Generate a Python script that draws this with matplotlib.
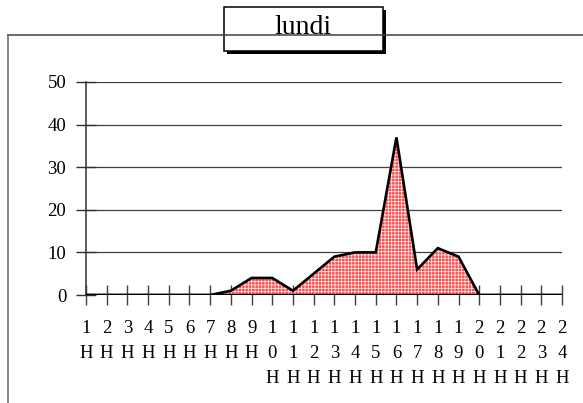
import matplotlib
matplotlib.use("Agg")
import matplotlib.pyplot as plt
from matplotlib.patches import Rectangle
from matplotlib.lines import Line2D

plt.rcParams['font.family'] = ['Liberation Serif', 'DejaVu Serif']
plt.rcParams['hatch.linewidth'] = 0.6

title = "lundi"
hours = list(range(1, 25))
hour_labels = ["\n".join(list(str(h))) + "\nH" for h in hours]
values = [0, 0, 0, 0, 0, 0, 0, 1, 4, 4, 1, 5, 9, 10, 10, 37, 6, 11, 9, 0, 0, 0, 0, 0]
yticks = [0, 10, 20, 30, 40, 50]

W, H = 583, 403
fig = plt.figure(figsize=(W / 100, H / 100), dpi=100)
fig.patch.set_facecolor('white')

def fx(x):
    return x / W

def fy(y):
    return 1 - y / H

ax = fig.add_axes([fx(86), fy(295), fx(562) - fx(86), fy(82) - fy(295)])
ax.set_facecolor('none')

ax.fill_between(hours, values, 0, facecolor='#ff4a4a', edgecolor='#ffe4e4',
                hatch='+++++', linewidth=0, zorder=2)
ax.plot(hours, values, color='black', lw=1.9, zorder=3, solid_joinstyle='miter')
ax.axhline(0, color='black', lw=2.4, zorder=4)

for yv in yticks[1:]:
    ax.axhline(yv, color='#404040', lw=0.9, zorder=1)

ax.set_xlim(1, 24)
ax.set_ylim(0, 50)
ax.set_xticks(hours)
ax.set_xticklabels(hour_labels, fontsize=13.5, linespacing=1.62, va='top')
ax.set_yticks(yticks)
ax.set_yticklabels([str(v) for v in yticks], fontsize=13.5)

for s in ['top', 'right', 'bottom']:
    ax.spines[s].set_visible(False)
ax.spines['left'].set_color('#303030')
ax.spines['left'].set_linewidth(1.1)
ax.tick_params(axis='x', direction='inout', length=14.5, width=1.0, color='#404040', pad=10.5)
ax.tick_params(axis='y', direction='inout', length=14.5, width=1.0, color='#303030', pad=7)

# outer frame lines
fig.add_artist(Line2D([fx(8), fx(583)], [fy(35), fy(35)], transform=fig.transFigure,
                      color='#404040', lw=1.1))
fig.add_artist(Line2D([fx(8), fx(8)], [fy(35), fy(403)], transform=fig.transFigure,
                      color='#606060', lw=1.1))

# title box with shadow
bx0, bx1, by0, by1 = 224, 383, 7, 51
fig.add_artist(Rectangle((fx(bx0 + 3), fy(by1 + 3)), fx(bx1 - bx0), fy(by0) - fy(by1),
                         transform=fig.transFigure, facecolor='black', edgecolor='black', lw=0))
fig.add_artist(Rectangle((fx(bx0), fy(by1)), fx(bx1 - bx0), fy(by0) - fy(by1),
                         transform=fig.transFigure, facecolor='white', edgecolor='black', lw=1.1))
fig.text(fx((bx0 + bx1) / 2), fy(28), title, ha='center', va='center', fontsize=20)

fig.savefig('out.png', dpi=100, facecolor='white')
